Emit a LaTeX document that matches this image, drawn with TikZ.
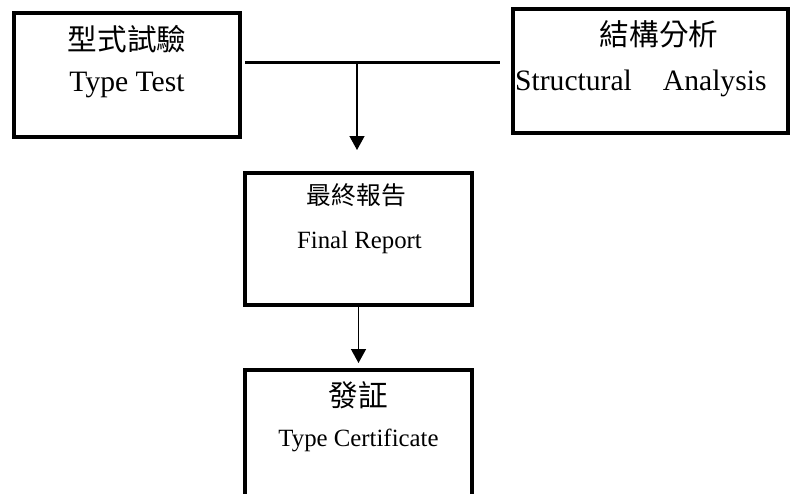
\documentclass[tikz,border=0pt]{standalone}
\usepackage{fontspec}
\setmainfont{Liberation Serif}
\newfontfamily\cjk{Noto Sans CJK TC}
\usetikzlibrary{arrows.meta,positioning,calc}

\begin{document}
\begin{tikzpicture}[x=1pt,y=-1pt,
box/.style 2 args={draw,line width=4pt,inner sep=0pt,minimum width=#1,minimum height=#2},
big/.style={font=\fontsize{29.6}{34}\selectfont,inner sep=0pt},
small/.style={font=\fontsize{24.8}{29}\selectfont,inner sep=0pt},
bus/.style={line width=3pt},
arr/.style={-{Triangle[length=14pt,width=15pt]},line width=1.4pt}]
\useasboundingbox (0,0) rectangle (790,493);
\clip (0,0) rectangle (790,493);
\node[box={226pt}{124pt}] (tt) at (127,75) {};
\node[box={275pt}{124pt}] (sa) at (650.5,71) {};
\node[box={227pt}{132pt}] (fr) at (358.5,239) {};
\node[box={227pt}{132pt}] (tc) at (358.5,436) {};
\node[big] (ttzh) at ($(tt.north)+(0,28)$) {\cjk 型式試驗};
\node[big,anchor=base] (tten) at ($(tt.north)+(0,80)$) {Type Test};
\node[big] (sazh) at (659,34) {\cjk 結構分析};
\node[big,anchor=base west] (saen) at (515,90) {Structural\hspace{31pt}Analysis};
\node[small] (frzh) at ($(fr.north)+(-2,24)$) {\cjk 最終報告};
\node[small,anchor=base] (fren) at ($(fr.north)+(1,77)$) {Final Report};
\node[big] (tczh) at ($(tc.north)+(0,27)$) {\cjk 發証};
\node[small,anchor=base] (tcen) at ($(tc.north)+(0,78)$) {Type Certificate};
\coordinate (busL) at (245,62);
\coordinate (busR) at (500,62);
\coordinate (join) at (357,62);
\draw[bus] (busL) -- (busR);
\draw[arr,shorten >=21pt] (join) -- (join |- fr.north);
\draw[arr,shorten >=5pt] (fr.south) -- (tc.north);
\end{tikzpicture}
\end{document}
